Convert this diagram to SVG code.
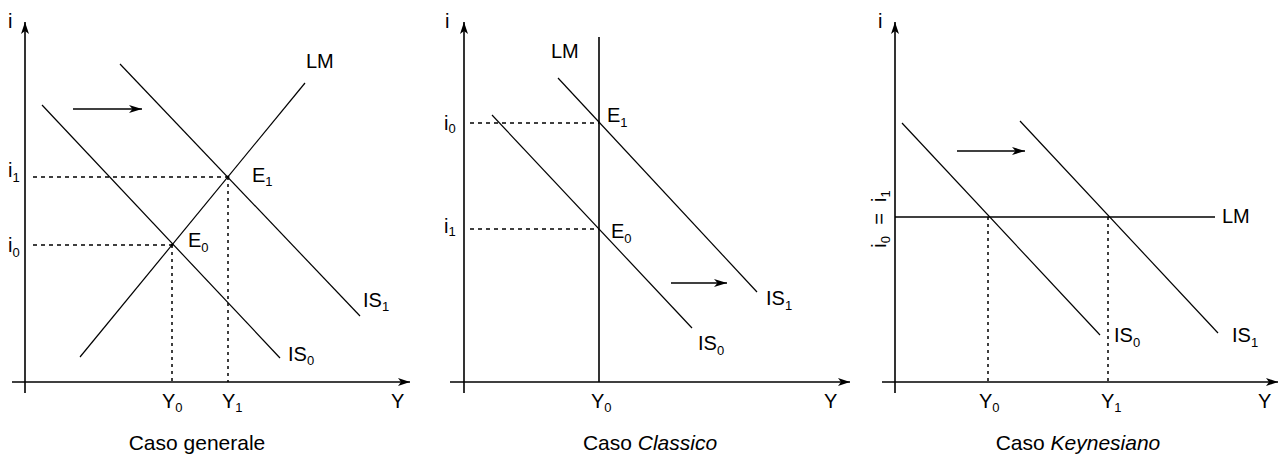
<svg xmlns="http://www.w3.org/2000/svg" width="1280" height="455" viewBox="0 0 1280 455">
<style>
.ax{stroke:#000;stroke-width:1.6;fill:none}
.cv{stroke:#000;stroke-width:1.2;fill:none}
.lmv{stroke:#000;stroke-width:1.6;fill:none}
.dh{stroke:#000;stroke-width:1.3;stroke-dasharray:4 4;fill:none}
.dv{stroke:#000;stroke-width:1.5;stroke-dasharray:3 4;fill:none}
.sh{stroke:#000;stroke-width:1.4;fill:none}
text{font-family:"Liberation Sans",Arial,sans-serif;fill:#000}
.l{font-size:20px}
.c{font-size:21px}
.s{font-size:13px}
.it{font-style:italic}
</style>
<defs>
<marker id="axh" markerWidth="14" markerHeight="10" refX="12" refY="4.5" orient="auto" markerUnits="userSpaceOnUse">
<path d="M12,4.5 L0,0.5 L3,4.5 L0,8.5 Z" fill="#000"/>
</marker>
<marker id="shh" markerWidth="16" markerHeight="10" refX="13" refY="4.5" orient="auto" markerUnits="userSpaceOnUse">
<path d="M13,4.5 L0,0.5 L3.5,4.5 L0,8.5 Z" fill="#000"/>
</marker>
</defs>
<rect width="1280" height="455" fill="#fff"/>

<!-- Panel 1: Caso generale -->
<g id="panel-generale">
<g id="axes-1">
<line class="ax" x1="25" y1="393" x2="25" y2="22" marker-end="url(#axh)"/>
<line class="ax" x1="12" y1="382" x2="410" y2="382" marker-end="url(#axh)"/>
<text class="l" x="8" y="28">i</text>
<text class="l" x="391" y="408">Y</text>
</g>
<g id="LM-1">
<line class="cv" x1="80" y1="357" x2="305" y2="83"/>
<text class="l" x="306" y="68">LM</text>
</g>
<g id="IS0-1">
<line class="cv" x1="42" y1="105" x2="280" y2="358"/>
<text class="l" x="288" y="361">IS<tspan class="s" dy="4">0</tspan></text>
</g>
<g id="IS1-1">
<line class="cv" x1="120" y1="64" x2="360" y2="316"/>
<text class="l" x="363" y="307">IS<tspan class="s" dy="4">1</tspan></text>
</g>
<g id="E0-1">
<circle cx="172" cy="245" r="1.5" fill="#000"/>
<text class="l" x="188" y="247">E<tspan class="s" dy="5">0</tspan></text>
</g>
<g id="E1-1">
<circle cx="228" cy="177" r="1.5" fill="#000"/>
<text class="l" x="252" y="182">E<tspan class="s" dy="4">1</tspan></text>
</g>
<g id="ticks-1">
<text class="l" x="8" y="177">i<tspan class="s" dy="5">1</tspan></text>
<text class="l" x="8" y="252">i<tspan class="s" dy="5">0</tspan></text>
<text class="l" x="162" y="408">Y<tspan class="s" dy="4">0</tspan></text>
<text class="l" x="222" y="408">Y<tspan class="s" dy="4">1</tspan></text>
</g>
<text class="c" x="197" y="450" text-anchor="middle">Caso generale</text>
</g>

<!-- Panel 2: Caso Classico -->
<g id="panel-classico">
<g id="axes-2">
<line class="ax" x1="464" y1="393" x2="464" y2="22" marker-end="url(#axh)"/>
<line class="ax" x1="450" y1="382" x2="850" y2="382" marker-end="url(#axh)"/>
<text class="l" x="445" y="28">i</text>
<text class="l" x="824" y="408">Y</text>
</g>
<g id="LM-2">
<line class="lmv" x1="599" y1="37" x2="599" y2="382"/>
<text class="l" x="551" y="58">LM</text>
</g>
<g id="IS0-2">
<line class="cv" x1="492" y1="115" x2="692" y2="328"/>
<text class="l" x="698" y="350">IS<tspan class="s" dy="5">0</tspan></text>
</g>
<g id="IS1-2">
<line class="cv" x1="558" y1="78" x2="757" y2="292"/>
<text class="l" x="766" y="305">IS<tspan class="s" dy="5">1</tspan></text>
</g>
<g id="E1-2">
<text class="l" x="607" y="122">E<tspan class="s" dy="5">1</tspan></text>
</g>
<g id="E0-2">
<text class="l" x="611" y="238">E<tspan class="s" dy="5">0</tspan></text>
</g>
<g id="ticks-2">
<text class="l" x="444" y="130">i<tspan class="s" dy="3">0</tspan></text>
<text class="l" x="444" y="233">i<tspan class="s" dy="3">1</tspan></text>
<text class="l" x="591" y="408">Y<tspan class="s" dy="4">0</tspan></text>
</g>
<text class="c" x="650" y="450" text-anchor="middle">Caso <tspan class="it">Classico</tspan></text>
</g>

<!-- Panel 3: Caso Keynesiano -->
<g id="panel-keynesiano">
<g id="axes-3">
<line class="ax" x1="895" y1="393" x2="895" y2="22" marker-end="url(#axh)"/>
<line class="ax" x1="882" y1="382" x2="1278" y2="382" marker-end="url(#axh)"/>
<text class="l" x="878" y="28">i</text>
<text class="l" x="1258" y="408">Y</text>
</g>
<g id="LM-3">
<line class="lmv" x1="895" y1="217" x2="1215" y2="217"/>
<text class="l" x="1222" y="223">LM</text>
</g>
<g id="IS0-3">
<line class="cv" x1="902" y1="123" x2="1100" y2="335"/>
<text class="l" x="1114" y="342">IS<tspan class="s" dy="5">0</tspan></text>
</g>
<g id="IS1-3">
<line class="cv" x1="1020" y1="121" x2="1218" y2="333"/>
<text class="l" x="1232" y="342">IS<tspan class="s" dy="5">1</tspan></text>
</g>
<g id="ticks-3">
<text class="l" transform="translate(886,219) rotate(-90)" text-anchor="middle">i<tspan class="s" dy="4">0</tspan><tspan dy="-4" xml:space="preserve">  =  </tspan>i<tspan class="s" dy="4">1</tspan></text>
<text class="l" x="979" y="408">Y<tspan class="s" dy="4">0</tspan></text>
<text class="l" x="1101" y="408">Y<tspan class="s" dy="4">1</tspan></text>
</g>
<text class="c" x="1078" y="450" text-anchor="middle">Caso <tspan class="it">Keynesiano</tspan></text>
</g>

<!-- connectors: dashed guides and shift arrows -->
<g id="connectors">
<line class="dh" x1="33" y1="177" x2="228" y2="177"/>
<line class="dh" x1="33" y1="245" x2="172" y2="245"/>
<line class="dv" x1="228" y1="177" x2="228" y2="382"/>
<line class="dv" x1="172" y1="245" x2="172" y2="382"/>
<line class="dh" x1="470" y1="123" x2="599" y2="123"/>
<line class="dh" x1="470" y1="229" x2="599" y2="229"/>
<line class="dv" x1="988" y1="217" x2="988" y2="382"/>
<line class="dv" x1="1108" y1="217" x2="1108" y2="382"/>
<line class="sh" x1="73" y1="109" x2="142" y2="109" marker-end="url(#shh)"/>
<line class="sh" x1="671" y1="283" x2="727" y2="283" marker-end="url(#shh)"/>
<line class="sh" x1="957" y1="151" x2="1025" y2="151" marker-end="url(#shh)"/>
</g>
</svg>
